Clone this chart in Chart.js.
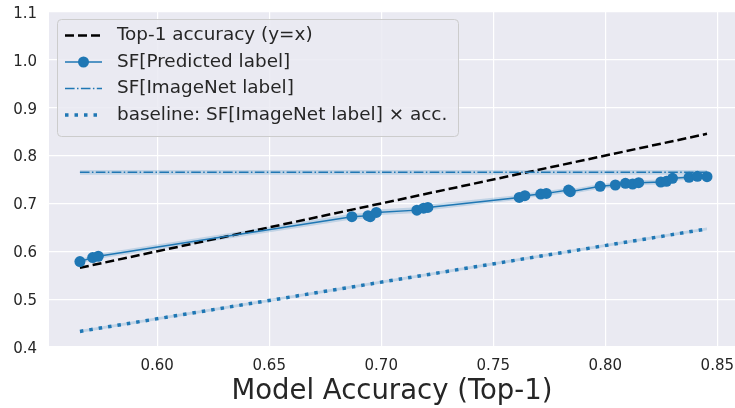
<!DOCTYPE html>
<html><head><meta charset="utf-8">
<script src="https://cdn.jsdelivr.net/npm/chart.js@4/dist/chart.umd.min.js"></script>
<style>html,body{margin:0;padding:0;background:#fff}#wrap{width:735px;height:408px}</style>
</head><body><div id="wrap"><canvas id="c" width="735" height="408"></canvas></div>
<script>
// ---- data ----
const acc = [0.5655,0.5712,0.5737,0.6869,0.6941,0.6951,0.6978,0.7159,0.7189,0.7208,0.7616,0.7641,0.7712,0.7737,0.7836,0.7844,0.7977,0.8045,0.8090,0.8122,0.8149,0.8248,0.8273,0.8300,0.8374,0.8411,0.8454];
const sfPred = [0.5785,0.5868,0.5896,0.6722,0.6743,0.6722,0.6813,0.6860,0.6900,0.6916,0.7126,0.7161,0.7196,0.7210,0.7280,0.7245,0.7357,0.7385,0.7420,0.7406,0.7434,0.7448,0.7462,0.7524,0.7545,0.7566,0.7559];
const sfPredCI = [0.005,0.005,0.005,0.006,0.006,0.006,0.006,0.006,0.006,0.006,0.005,0.005,0.005,0.005,0.005,0.005,0.005,0.005,0.005,0.005,0.005,0.005,0.005,0.005,0.005,0.005,0.005];
const diagX = [0.5655, 0.8454];
const diagY = [0.5655, 0.8454];
const imgNetX = [0.5655, 0.8454];
const imgNetY = [0.765, 0.765];
const imgNetCI = [0.005, 0.005];
const baseX = [0.5655, 0.8454];
const baseY = [0.4326, 0.6467];
const baseCI = [0.003, 0.003];
const xTicks = [0.60, 0.65, 0.70, 0.75, 0.80, 0.85];
const yTicks = [0.4, 0.5, 0.6, 0.7, 0.8, 0.9, 1.0, 1.1];
const legendLabels = ['Top-1 accuracy (y=x)', 'SF[Predicted label]', 'SF[ImageNet label]', 'baseline: SF[ImageNet label] \u00d7 acc.'];

const BLUE = '#1f77b4';
const BAND = 'rgba(31,119,180,0.2)';
const TXT = '#262626';
const FONT = '"DejaVu Sans", sans-serif';

const pts = (xs, ys) => xs.map((x, i) => ({x, y: ys[i]}));
const ptsOff = (xs, ys, e, s) => xs.map((x, i) => ({x, y: ys[i] + s * e[i]}));

const bandDs = (data, fill, order) => ({data, borderWidth: 0, pointRadius: 0, borderColor: 'rgba(0,0,0,0)', backgroundColor: BAND, fill, order, tension: 0});

const bgPlugin = {
  id: 'bg',
  beforeDraw(chart) {
    const {ctx, chartArea: a} = chart;
    ctx.save();
    ctx.fillStyle = '#fff';
    ctx.fillRect(0, 0, chart.width, chart.height);
    ctx.fillStyle = '#EAEAF2';
    ctx.fillRect(a.left, a.top, a.right - a.left, a.bottom - a.top);
    ctx.restore();
  }
};

const legendPlugin = {
  id: 'legendBox',
  afterDraw(chart) {
    const ctx = chart.ctx;
    const x0 = 57.5, y0 = 19.5, w = 401, h = 117, r = 4;
    ctx.save();
    ctx.beginPath();
    ctx.roundRect(x0, y0, w, h, r);
    ctx.fillStyle = 'rgba(234,234,242,0.85)';
    ctx.fill();
    ctx.strokeStyle = '#cccccc';
    ctx.lineWidth = 1;
    ctx.stroke();
    const rows = [35.5, 62, 88.5, 115];
    const lx0 = 65, lx1 = 102, tx = 117;
    ctx.lineCap = 'butt';
    ctx.strokeStyle = '#000'; ctx.lineWidth = 2.5; ctx.setLineDash([9, 4]);
    ctx.beginPath(); ctx.moveTo(lx0, rows[0]); ctx.lineTo(lx1, rows[0]); ctx.stroke();
    ctx.setLineDash([]); ctx.strokeStyle = BLUE; ctx.lineWidth = 1.5;
    ctx.beginPath(); ctx.moveTo(lx0, rows[1]); ctx.lineTo(lx1, rows[1]); ctx.stroke();
    ctx.fillStyle = BLUE; ctx.beginPath(); ctx.arc((lx0 + lx1) / 2, rows[1], 5.5, 0, Math.PI * 2); ctx.fill();
    ctx.setLineDash([9.6, 2.4, 1.5, 2.4]); ctx.lineWidth = 1.5;
    ctx.beginPath(); ctx.moveTo(lx0, rows[2]); ctx.lineTo(lx1, rows[2]); ctx.stroke();
    ctx.setLineDash([3.5, 6]); ctx.lineWidth = 3.5;
    ctx.beginPath(); ctx.moveTo(lx0, rows[3]); ctx.lineTo(lx1, rows[3]); ctx.stroke();
    ctx.setLineDash([]);
    ctx.fillStyle = TXT; ctx.font = '18.4px ' + FONT; ctx.textBaseline = 'middle'; ctx.textAlign = 'left';
    legendLabels.forEach((t, i) => ctx.fillText(t, tx, rows[i]));
    ctx.restore();
  }
};

new Chart(document.getElementById('c'), {
  type: 'line',
  data: {
    datasets: [
      bandDs(ptsOff(imgNetX, imgNetY, imgNetCI, -1), false, 20),
      bandDs(ptsOff(imgNetX, imgNetY, imgNetCI, 1), '-1', 20),
      bandDs(ptsOff(baseX, baseY, baseCI, -1), false, 20),
      bandDs(ptsOff(baseX, baseY, baseCI, 1), '-1', 20),
      bandDs(ptsOff(acc, sfPred, sfPredCI, -1), false, 20),
      bandDs(ptsOff(acc, sfPred, sfPredCI, 1), '-1', 20),
      {data: pts(diagX, diagY), borderColor: '#000', borderWidth: 2.5, borderDash: [9, 4], pointRadius: 0, fill: false, order: 5},
      {data: pts(imgNetX, imgNetY), borderColor: BLUE, borderWidth: 1.5, borderDash: [9.6, 2.4, 1.5, 2.4], pointRadius: 0, fill: false, order: 4},
      {data: pts(baseX, baseY), borderColor: BLUE, borderWidth: 3.5, borderDash: [3.5, 6], borderCapStyle: 'butt', pointRadius: 0, fill: false, order: 3},
      {data: pts(acc, sfPred), borderColor: BLUE, borderWidth: 1.5, pointRadius: 5.5, pointBackgroundColor: BLUE, pointBorderColor: BLUE, pointBorderWidth: 0, fill: false, order: 1}
    ]
  },
  options: {
    responsive: false,
    animation: false,
    events: [],
    layout: {autoPadding: false, padding: {top: 12, right: 0, left: 0, bottom: 0}},
    plugins: {legend: {display: false}, tooltip: {enabled: false}},
    elements: {line: {tension: 0}},
    scales: {
      x: {
        type: 'linear', min: 0.5517, max: 0.8579,
        afterBuildTicks: s => { s.ticks = xTicks.map(v => ({value: v})); },
        afterFit: s => { s.height = 61; s.paddingLeft = 0; s.paddingRight = 0; },
        grid: {color: '#ffffff', lineWidth: 1.2, drawTicks: false},
        border: {display: false},
        ticks: {padding: 10, color: TXT, font: {family: FONT, size: 15}, callback: v => v.toFixed(2)},
        title: {display: true, text: 'Model Accuracy (Top-1)', color: TXT, font: {family: FONT, size: 27.5}, padding: {top: 0, bottom: 0}}
      },
      y: {
        type: 'linear', min: 0.4, max: 1.1,
        afterBuildTicks: s => { s.ticks = yTicks.map(v => ({value: v})); },
        afterFit: s => { s.width = 49; s.paddingTop = 0; s.paddingBottom = 0; },
        grid: {color: '#ffffff', lineWidth: 1.2, drawTicks: false},
        border: {display: false},
        ticks: {padding: 12, labelOffset: 2, color: TXT, font: {family: FONT, size: 15}, callback: v => v.toFixed(1)}
      }
    }
  },
  plugins: [bgPlugin, legendPlugin]
});
</script>
</body></html>
